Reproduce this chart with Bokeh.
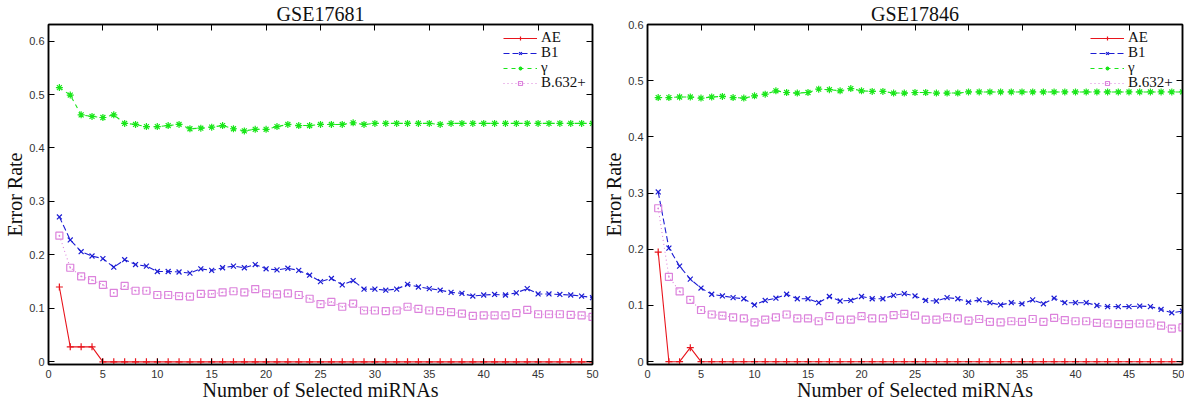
from bokeh.plotting import figure
from bokeh.models import (Range1d, FixedTicker, NumeralTickFormatter, LinearAxis,
                          Legend, LegendItem, ColumnDataSource)
from bokeh.layouts import row
from bokeh.embed import file_html
from bokeh.resources import INLINE

# ---------------- data ----------------
n_selected = [1, 2, 3, 4, 5, 6, 7, 8, 9, 10,
              11, 12, 13, 14, 15, 16, 17, 18, 19, 20,
              21, 22, 23, 24, 25, 26, 27, 28, 29, 30,
              31, 32, 33, 34, 35, 36, 37, 38, 39, 40,
              41, 42, 43, 44, 45, 46, 47, 48, 49, 50]

x_ticks = [0, 5, 10, 15, 20, 25, 30, 35, 40, 45, 50]
y_ticks = [0, 0.1, 0.2, 0.3, 0.4, 0.5, 0.6]

series_names = ["AE", "B1", "\u03b3", "B.632+"]

# GSE17681
ae_17681 = [0.140, 0.028, 0.028, 0.028, 0.0, 0.0, 0.0, 0.0, 0.0, 0.0,
            0.0, 0.0, 0.0, 0.0, 0.0, 0.0, 0.0, 0.0, 0.0, 0.0,
            0.0, 0.0, 0.0, 0.0, 0.0, 0.0, 0.0, 0.0, 0.0, 0.0,
            0.0, 0.0, 0.0, 0.0, 0.0, 0.0, 0.0, 0.0, 0.0, 0.0,
            0.0, 0.0, 0.0, 0.0, 0.0, 0.0, 0.0, 0.0, 0.0, 0.0]
b1_17681 = [0.271, 0.228, 0.206, 0.198, 0.193, 0.177, 0.191, 0.182, 0.179, 0.169,
            0.169, 0.168, 0.166, 0.174, 0.171, 0.176, 0.179, 0.176, 0.182, 0.174,
            0.172, 0.175, 0.171, 0.162, 0.150, 0.156, 0.144, 0.152, 0.136, 0.136,
            0.134, 0.136, 0.145, 0.140, 0.137, 0.134, 0.130, 0.128, 0.123, 0.125,
            0.126, 0.125, 0.129, 0.137, 0.127, 0.127, 0.126, 0.125, 0.123, 0.120]
gamma_17681 = [0.513, 0.499, 0.462, 0.459, 0.457, 0.462, 0.446, 0.444, 0.440, 0.440,
               0.442, 0.444, 0.436, 0.437, 0.439, 0.442, 0.436, 0.432, 0.435, 0.435,
               0.440, 0.444, 0.442, 0.442, 0.444, 0.444, 0.444, 0.447, 0.444, 0.446,
               0.446, 0.446, 0.446, 0.446, 0.446, 0.444, 0.446, 0.446, 0.446, 0.446,
               0.446, 0.446, 0.446, 0.446, 0.446, 0.446, 0.446, 0.446, 0.446, 0.446]
b632_17681 = [0.236, 0.176, 0.160, 0.153, 0.144, 0.129, 0.142, 0.133, 0.133, 0.125,
              0.125, 0.123, 0.122, 0.127, 0.127, 0.130, 0.132, 0.130, 0.136, 0.128,
              0.126, 0.128, 0.125, 0.118, 0.108, 0.112, 0.103, 0.109, 0.096, 0.096,
              0.095, 0.096, 0.103, 0.099, 0.096, 0.095, 0.093, 0.090, 0.086, 0.087,
              0.087, 0.087, 0.091, 0.097, 0.089, 0.089, 0.089, 0.088, 0.087, 0.084]

# GSE17846
ae_17846 = [0.195, 0.0, 0.0, 0.025, 0.0, 0.0, 0.0, 0.0, 0.0, 0.0,
            0.0, 0.0, 0.0, 0.0, 0.0, 0.0, 0.0, 0.0, 0.0, 0.0,
            0.0, 0.0, 0.0, 0.0, 0.0, 0.0, 0.0, 0.0, 0.0, 0.0,
            0.0, 0.0, 0.0, 0.0, 0.0, 0.0, 0.0, 0.0, 0.0, 0.0,
            0.0, 0.0, 0.0, 0.0, 0.0, 0.0, 0.0, 0.0, 0.0, 0.0]
b1_17846 = [0.302, 0.202, 0.170, 0.147, 0.131, 0.120, 0.117, 0.114, 0.112, 0.101,
            0.109, 0.113, 0.120, 0.112, 0.112, 0.105, 0.116, 0.108, 0.109, 0.116,
            0.112, 0.112, 0.118, 0.121, 0.117, 0.109, 0.108, 0.114, 0.112, 0.106,
            0.110, 0.105, 0.101, 0.105, 0.103, 0.110, 0.103, 0.113, 0.105, 0.105,
            0.105, 0.100, 0.098, 0.098, 0.098, 0.099, 0.098, 0.093, 0.087, 0.090]
gamma_17846 = [0.470, 0.470, 0.471, 0.471, 0.469, 0.471, 0.472, 0.470, 0.469, 0.473,
               0.476, 0.482, 0.479, 0.478, 0.479, 0.485, 0.484, 0.482, 0.486, 0.482,
               0.481, 0.481, 0.478, 0.478, 0.479, 0.479, 0.478, 0.478, 0.478, 0.480,
               0.480, 0.480, 0.480, 0.480, 0.480, 0.480, 0.480, 0.480, 0.480, 0.480,
               0.480, 0.480, 0.480, 0.480, 0.480, 0.480, 0.480, 0.480, 0.480, 0.480]
b632_17846 = [0.273, 0.151, 0.125, 0.110, 0.092, 0.084, 0.082, 0.079, 0.077, 0.070,
              0.075, 0.079, 0.084, 0.077, 0.077, 0.072, 0.081, 0.075, 0.075, 0.081,
              0.077, 0.077, 0.083, 0.085, 0.082, 0.075, 0.075, 0.079, 0.077, 0.073,
              0.076, 0.071, 0.070, 0.072, 0.071, 0.076, 0.071, 0.078, 0.074, 0.072,
              0.072, 0.069, 0.068, 0.067, 0.067, 0.068, 0.068, 0.064, 0.059, 0.061]

# ---------------- styles ----------------
COLORS = ["#e8141c", "#1c1cd4", "#19e619", "#dc82dc"]
DASHES = ["solid", "6 3", "4 4", "1 3"]
MARKERS = ["cross", "x", "asterisk", "square_dot"]
SERIF = "Liberation Serif"
SANS = "Liberation Sans"
KEY_STEP = 15


def mirror_axis(ticks):
    return LinearAxis(ticker=FixedTicker(ticks=ticks), major_tick_in=6, major_tick_out=0,
                      minor_tick_line_color=None, major_label_text_color=None,
                      major_label_text_font_size="1px", major_label_standoff=0,
                      axis_line_width=1.5)


def make_panel(title, series, ymax, width, min_left, min_right, legend_x, legend_top):
    p = figure(width=width, height=403, output_backend="svg", toolbar_location=None,
               x_range=Range1d(0, 50), y_range=Range1d(-0.005, ymax),
               min_border_left=min_left, min_border_right=min_right,
               min_border_top=0, min_border_bottom=0, title=title)
    p.title.align = "center"
    p.title.text_font = SERIF
    p.title.text_font_size = "20px"
    p.title.text_font_style = "normal"
    p.title.text_color = "#111111"
    p.title.standoff = 0
    p.xgrid.visible = False
    p.ygrid.visible = False
    p.outline_line_color = "black"
    p.outline_line_width = 1.5
    p.background_fill_color = "white"
    p.border_fill_color = "white"

    p.xaxis.ticker = FixedTicker(ticks=x_ticks)
    p.yaxis.ticker = FixedTicker(ticks=y_ticks)
    p.yaxis.formatter = NumeralTickFormatter(format="0.[0]")
    p.xaxis.axis_label = "Number of Selected miRNAs"
    p.yaxis.axis_label = "Error Rate"
    for ax in (p.xaxis[0], p.yaxis[0]):
        ax.major_tick_in = 6
        ax.major_tick_out = 0
        ax.minor_tick_line_color = None
        ax.axis_line_width = 1.5
        ax.axis_line_color = "black"
        ax.major_tick_line_color = "black"
        ax.major_label_text_font = SANS
        ax.major_label_text_font_size = "11px"
        ax.major_label_text_color = "#333333"
        ax.major_label_standoff = 4
        ax.axis_label_text_font = SERIF
        ax.axis_label_text_font_size = "20px"
        ax.axis_label_text_font_style = "normal"
        ax.axis_label_text_color = "#111111"
        ax.axis_label_standoff = 0
    p.xaxis[0].axis_label_standoff = -2
    p.xaxis[0].major_label_standoff = 5

    # mirrored ticks on top and right
    p.add_layout(mirror_axis(x_ticks), "above")
    p.add_layout(mirror_axis(y_ticks), "right")

    # gnuplot-style compact key: one single-item legend per row
    for k, (name, vals, c, d, m) in enumerate(zip(series_names, series, COLORS, DASHES, MARKERS)):
        src = ColumnDataSource(dict(x=n_selected, y=vals))
        lr = p.line("x", "y", source=src, line_color=c, line_dash=d, line_width=1.1)
        sr = p.scatter("x", "y", source=src, marker=m, size=7, line_color=c,
                       fill_color=None, line_width=1.2)
        leg = Legend(items=[LegendItem(label=name, renderers=[lr, sr])],
                     location=(legend_x, legend_top - KEY_STEP * k),
                     border_line_color=None, background_fill_alpha=0,
                     label_text_font=SERIF, label_text_font_size="15px",
                     label_text_color="#111111", label_width=46,
                     glyph_width=34, glyph_height=10, label_height=10,
                     spacing=0, padding=0, margin=0, label_standoff=4)
        p.add_layout(leg)
    return p


left = make_panel("GSE17681", [ae_17681, b1_17681, gamma_17681, b632_17681],
                  0.631, 600, 48, 8, 455, 318)
right = make_panel("GSE17846", [ae_17846, b1_17846, gamma_17846, b632_17846],
                   0.6, 584, 47, 2, 443, 318)

layout = row(left, right)
open("out.html", "w").write(file_html(layout, INLINE))
